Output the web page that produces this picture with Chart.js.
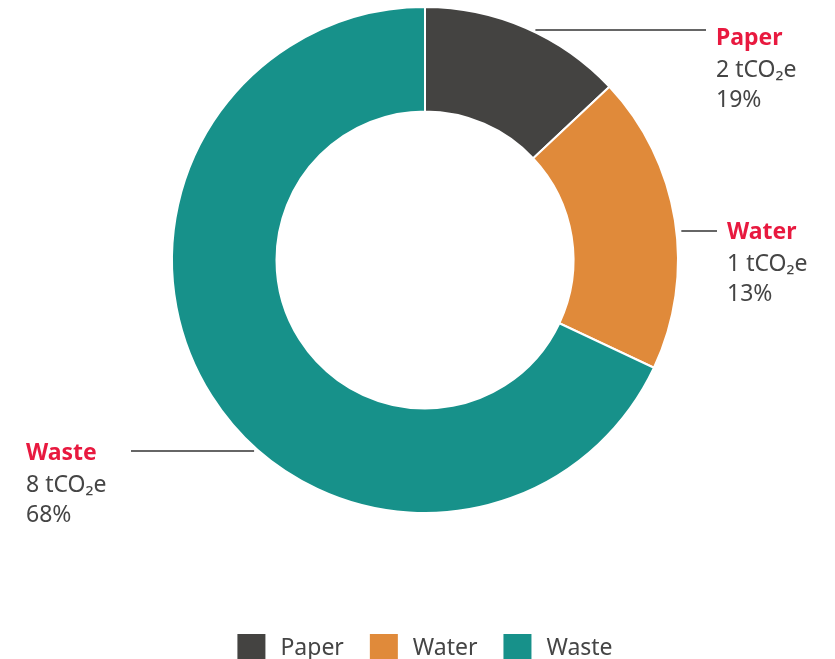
<!DOCTYPE html>
<html>
<head>
<meta charset="utf-8">
<title>Emissions by source</title>
<script src="https://cdn.jsdelivr.net/npm/chart.js@4.4.0/dist/chart.umd.min.js"></script>
<style>
  html, body { margin: 0; padding: 0; background: #fff; overflow: hidden; }
  #wrap { width: 835px; height: 659px; position: relative; }
</style>
</head>
<body>
<div id="wrap"><canvas id="chart"></canvas></div>
<script>
const categories = ['Paper', 'Water', 'Waste']
const shares = [13, 19, 68]            // slice size read from the ring
const emissionLabels = ['2 tCO₂e', '1 tCO₂e', '8 tCO₂e']
const percentLabels = ['19%', '13%', '68%']
const colors = ['#444341', '#e08a3a', '#17918a']

const FONT = '"Noto Sans", "Open Sans", sans-serif'
const RED = '#e8193f'
const GREY = '#454545'

// where each callout sits (leader line + text block)
const callouts = [
  { side: 'right', lineY: 30, lineEnd: 706, textX: 716, textY: 45 },
  { side: 'right', lineY: 231, lineEnd: 717, textX: 727, textY: 239 },
  { side: 'left', lineY: 451, lineEnd: 131, textX: 26, textY: 460 }
]

const calloutPlugin = {
  id: 'callouts',
  afterDatasetsDraw(chart) {
    const ctx = chart.ctx
    const meta = chart.getDatasetMeta(0)
    ctx.save()
    meta.data.forEach((arc, i) => {
      const c = callouts[i]
      if (!c) return
      const r = arc.outerRadius
      const dy = c.lineY - arc.y
      const dx = Math.sqrt(Math.max(0, r * r - dy * dy))
      const edgeX = c.side === 'right' ? arc.x + dx + 5 : arc.x - dx - 5

      ctx.beginPath()
      ctx.strokeStyle = '#333'
      ctx.lineWidth = 1.5
      ctx.moveTo(edgeX, c.lineY)
      ctx.lineTo(c.lineEnd, c.lineY)
      ctx.stroke()

      ctx.textAlign = 'left'
      ctx.textBaseline = 'alphabetic'
      ctx.fillStyle = RED
      ctx.font = 'bold 23px ' + FONT
      ctx.fillText(chart.data.labels[i], c.textX, c.textY)
      ctx.fillStyle = GREY
      ctx.font = '23px ' + FONT
      ctx.fillText(emissionLabels[i], c.textX, c.textY + 32)
      ctx.fillText(percentLabels[i], c.textX, c.textY + 62)
    })
    ctx.restore()
  }
}

// simple legend under the ring, drawn by hand so it sits where we want
const legendPlugin = {
  id: 'bottomLegend',
  afterDraw(chart) {
    const ctx = chart.ctx
    const box = 28, gap = 15, spacing = 26
    const top = 634
    ctx.save()
    ctx.font = '23px ' + FONT
    const widths = chart.data.labels.map(l => ctx.measureText(l).width)
    const total = widths.reduce((a, w) => a + box + gap + w, 0) + spacing * (widths.length - 1)
    let x = (chart.chartArea.left + chart.chartArea.right) / 2 - total / 2
    chart.data.labels.forEach((label, i) => {
      ctx.fillStyle = chart.data.datasets[0].backgroundColor[i]
      ctx.fillRect(x, top, box, box)
      x += box + gap
      ctx.fillStyle = GREY
      ctx.textBaseline = 'alphabetic'
      ctx.fillText(label, x, top + 21)
      x += widths[i] + spacing
    })
    ctx.restore()
  }
}

const chart = new Chart(document.getElementById('chart'), {
  type: 'doughnut',
  data: {
    labels: categories,
    datasets: [{
      data: shares,
      backgroundColor: colors,
      borderColor: '#ffffff',
      borderWidth: 2
    }]
  },
  options: {
    responsive: true,
    maintainAspectRatio: false,
    animation: false,
    cutout: '58.7%',
    layout: { padding: { top: 6, bottom: 145, left: 150, right: 135 } },
    plugins: {
      legend: { display: false },
      tooltip: { enabled: false }
    }
  },
  plugins: [calloutPlugin, legendPlugin]
})
</script>
</body>
</html>
